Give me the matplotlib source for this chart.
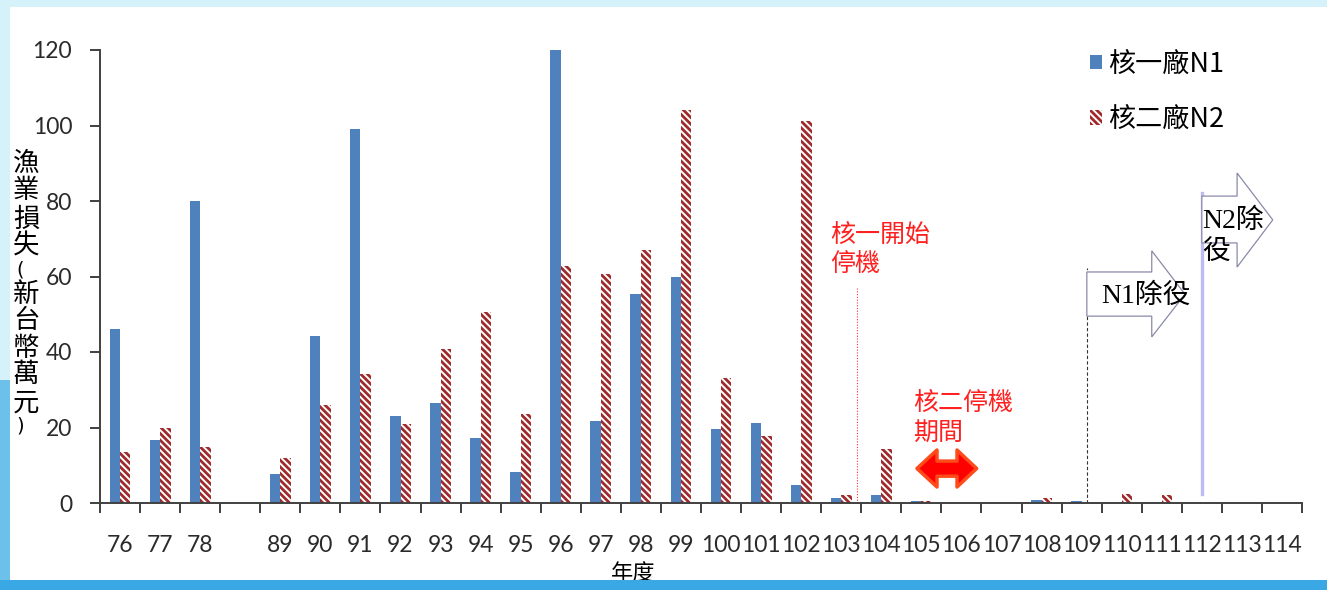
import numpy as np
import matplotlib
matplotlib.use('Agg')
import matplotlib.pyplot as plt
from matplotlib.patches import Rectangle, Polygon

plt.rcParams['font.family'] = ['Noto Sans CJK TC', 'DejaVu Sans']
plt.rcParams['hatch.linewidth'] = 2.0

# 年度 (空白為 79~88 年之間的間隔)
years = ['76', '77', '78', '', '89', '90', '91', '92', '93', '94', '95', '96', '97', '98', '99',
         '100', '101', '102', '103', '104', '105', '106', '107', '108', '109', '110', '111', '112', '113', '114']
n1 = [46, 16.7, 80, 0, 7.7, 44.2, 99.2, 23, 26.6, 17.3, 8.2, 120, 21.8, 55.3, 60,
      19.5, 21.3, 4.7, 1.3, 2, 0.6, 0, 0, 0.7, 0.6, 0, 0, 0, 0, 0]
n2 = [13.5, 20, 14.8, 0, 12, 26, 34.3, 20.8, 40.7, 50.7, 23.7, 62.8, 60.7, 67, 104,
      33, 17.8, 101.3, 2, 14.3, 0.5, 0, 0, 1.2, 0, 2.5, 2.2, 0, 0, 0]
ylabel_chars = ['漁', '業', '損', '失', '(', '新', '台', '幣', '萬', '元', ')']

W, H = 1327, 590
fig = plt.figure(figsize=(W / 100, H / 100), dpi=100)
fig.patch.set_facecolor('#d5f1fa')

# background panel + blue bands
fig.patches.append(Rectangle((10 / W, 10 / H), 1 - 10 / W, 1 - 17 / H, transform=fig.transFigure,
                             facecolor='white', edgecolor='none', zorder=-10))
fig.patches.append(Rectangle((0, 10 / H), 10 / W, 200 / H, transform=fig.transFigure,
                             facecolor='#6cc0ea', edgecolor='none', zorder=-10))
fig.patches.append(Rectangle((0, 0), 1, 10 / H, transform=fig.transFigure,
                             facecolor='#3aa8e4', edgecolor='none', zorder=10))

ax = fig.add_axes([100 / W, 1 - 503 / H, 1202 / W, 453 / H])
ax.set_facecolor('none')

x = np.arange(len(years))
w = 0.26
b1 = ax.bar(x - w / 2, n1, w, color='#4f81bd', linewidth=0, label='核一廠N1')
b2 = ax.bar(x + w / 2, n2, w, color='white', edgecolor='#9e2a2b', hatch='\\' * 5, linewidth=0,
            label='核二廠N2')

ax.set_xlim(-0.5, len(years) - 0.5)
ax.set_ylim(0, 120)
ax.set_yticks(np.arange(0, 121, 20))
ax.set_xticks(x)
ax.set_xticklabels(years)
ax.set_xticks(np.arange(len(years) + 1) - 0.5, minor=True)
for s in ['top', 'right']:
    ax.spines[s].set_visible(False)
for s in ['left', 'bottom']:
    ax.spines[s].set_color('#404040')
    ax.spines[s].set_linewidth(1.4)
ax.tick_params(axis='y', length=7, width=1.4, color='#404040', pad=13,
               labelsize=16.5, labelcolor='#2a2a2a')
ax.tick_params(axis='x', which='major', length=0, pad=23, labelsize=16.5, labelcolor='#2a2a2a')
ax.tick_params(axis='x', which='minor', length=7, width=1.4, color='#404040')
for lab in ax.get_xticklabels() + ax.get_yticklabels():
    lab.set_family(['Lato', 'DejaVu Sans'])

# legend
leg = ax.legend(handles=[b1, b2], loc='upper left', bbox_to_anchor=(1076 / W, 1 - 37 / H),
                bbox_transform=fig.transFigure, frameon=False, fontsize=19.5,
                handlelength=0.45, handleheight=0.45, handletextpad=0.25, labelspacing=1.05,
                borderpad=0)

# vertical markers
ax.plot([18.39, 18.39], [0, 57], color='#ff3030', lw=0.8, ls=(0, (1, 1.5)))
ax.plot([24.13, 24.13], [0, 62.3], color='#333333', lw=0.8, ls=(0, (3, 2)))
ax.plot([27.0, 27.0], [2.4, 82.1], color='#bcbcf2', lw=2.4)

# 核一開始停機 / 核二停機期間
ax.text(17.72, 74.4, '核一開始\n停機', color='#ff2020', fontsize=18, va='top', ha='left',
        linespacing=1.2)
ax.text(19.79, 29.9, '核二停機\n期間', color='#ff2020', fontsize=18, va='top', ha='left',
        linespacing=1.2)

# red double arrow
dbl = [(19.89, 9.14), (20.39, 14.04), (20.39, 11.1), (20.89, 11.1), (20.89, 14.04),
       (21.38, 9.14), (20.89, 4.24), (20.89, 7.1), (20.39, 7.1), (20.39, 4.24)]
ax.add_patch(Polygon(dbl, closed=True, facecolor='#ff0000', edgecolor='#ff4a1a', lw=2.5,
                     joinstyle='round', zorder=5))

# block arrows
a1 = [(24.13, 61.2), (25.75, 61.2), (25.75, 66.8), (26.58, 55.3), (25.75, 44.0),
      (25.75, 49.5), (24.13, 49.5)]
ax.add_patch(Polygon(a1, closed=True, facecolor='white', edgecolor='#8a8aa8', lw=0.9, zorder=4))
a2 = [(27.0, 81.3), (27.88, 81.3), (27.88, 87.4), (28.77, 75.0), (27.88, 62.5),
      (27.88, 68.9), (27.0, 68.9)]
ax.add_patch(Polygon(a2, closed=True, facecolor='white', edgecolor='#8a8aa8', lw=0.9, zorder=4))
serif = ['Liberation Serif', 'Noto Sans CJK TC']
ax.text(24.5, 54.8, 'N1除役', family=serif, fontsize=20, va='center', ha='left', zorder=6)
ax.text(27.02, 78.0, 'N2除\n役', family=serif, fontsize=20, va='top', ha='left', zorder=6,
        linespacing=1.35)

# y label: stacked characters (pixel rows from the top)
rows = [163, 191, 219, 246, 270, 294, 321, 348, 375, 403, 426]
for ch, r in zip(ylabel_chars, rows):
    if ch in '()':
        fig.text(20 / W, 1 - r / H, ch, fontsize=14, ha='center', va='center',
                 family='DejaVu Sans')
    else:
        fig.text(26 / W, 1 - r / H, ch, fontsize=19, ha='center', va='center')

fig.text(633 / W, 1 - 574 / H, '年度', fontsize=16, ha='center', va='center', zorder=1)

fig.savefig('out.png', dpi=100, facecolor=fig.get_facecolor())
